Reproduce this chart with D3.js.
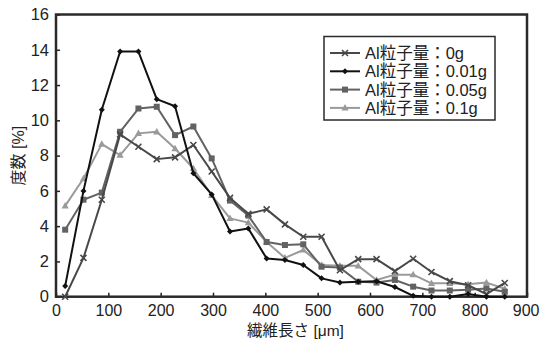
<!DOCTYPE html>
<html>
<head>
<meta charset="utf-8">
<script src="https://cdn.jsdelivr.net/npm/d3@7"></script>
<style>
  body { margin: 0; background: #fff; }
  svg text { font-family: "Liberation Sans", "Noto Sans CJK JP", sans-serif; fill: #222; }
</style>
</head>
<body>
<svg id="chart" width="540" height="340"></svg>
<script>
// bin centres (µm)
const lengths = d3.range(25).map(k => 17.5 + 35 * k);

const s0g   = [0, 2.2, 5.5, 9.2, 8.5, 7.8, 7.9, 8.6, 7.1, 5.6, 4.7, 4.95, 4.1, 3.4, 3.4, 1.5, 2.13, 2.13, 1.45, 2.15, 1.4, 0.88, 0.65, 0.15, 0.78];
const s001g = [0.6, 6.0, 10.6, 13.9, 13.9, 11.2, 10.8, 7.0, 5.8, 3.7, 3.87, 2.17, 2.08, 1.8, 1.04, 0.81, 0.85, 0.88, 0.55, 0.05, 0, 0, 0.15, 0, 0];
const s005g = [3.8, 5.5, 5.9, 9.35, 10.67, 10.77, 9.16, 9.65, 7.84, 5.45, 4.6, 3.1, 2.93, 2.97, 1.7, 1.65, 0.85, 0.8, 0.95, 0.57, 0.35, 0.35, 0.4, 0.47, 0.28];
const s01g  = [5.15, 6.7, 8.65, 8.03, 9.26, 9.35, 8.4, 7.27, 5.75, 4.44, 4.2, 3.1, 2.2, 2.65, 1.8, 1.75, 1.75, 0.95, 1.25, 1.25, 0.76, 0.76, 0.7, 0.8, 0.45];

const seriesNames = ["Al粒子量：0g", "Al粒子量：0.01g", "Al粒子量：0.05g", "Al粒子量：0.1g"];
const xTicks = [0, 100, 200, 300, 400, 500, 600, 700, 800, 900];
const yTicks = [0, 2, 4, 6, 8, 10, 12, 14, 16];

const series = [
  { name: seriesNames[0], values: s0g,   color: "#484848", marker: "cross" },
  { name: seriesNames[1], values: s001g, color: "#111111", marker: "dot" },
  { name: seriesNames[2], values: s005g, color: "#626262", marker: "square" },
  { name: seriesNames[3], values: s01g,  color: "#9a9a9a", marker: "triangle" }
];

const svg = d3.select("#chart");
const plotL = 56, plotR = 527, plotT = 14.5, plotB = 296.7;

const x = d3.scaleLinear().domain([0, 900]).range([plotL, plotR]);
const y = d3.scaleLinear().domain([0, 16]).range([plotB, plotT]);

// axes with inward ticks
svg.append("g")
  .attr("transform", `translate(0,${plotB})`)
  .call(d3.axisBottom(x).tickValues(xTicks).tickSizeInner(-4).tickSizeOuter(0).tickPadding(8))
  .call(g => g.select(".domain").remove())
  .call(g => g.selectAll("line").attr("stroke", "#222").attr("stroke-width", 1.5))
  .call(g => g.selectAll("text").attr("font-size", 16).attr("fill", "#222"))
  .call(g => g.selectAll(".tick:last-of-type text").attr("text-anchor", "end").attr("dx", 12));

svg.append("g")
  .attr("transform", `translate(${plotL},0)`)
  .call(d3.axisLeft(y).tickValues(yTicks).tickSizeInner(-4).tickSizeOuter(0).tickPadding(7))
  .call(g => g.select(".domain").remove())
  .call(g => g.selectAll("line").attr("stroke", "#222").attr("stroke-width", 1.5))
  .call(g => g.selectAll("text").attr("font-size", 16.5).attr("fill", "#222"));

// frame
svg.append("rect")
  .attr("x", plotL).attr("y", plotT)
  .attr("width", plotR - plotL).attr("height", plotB - plotT)
  .attr("fill", "none").attr("stroke", "#2a2a2a").attr("stroke-width", 2.5);

const line = d3.line().x((d, i) => x(lengths[i])).y(d => y(d));

function drawMarker(g, type, color) {
  if (type === "cross") {
    g.append("path").attr("d", "M-3,-3L3,3M-3,3L3,-3")
      .attr("stroke", color).attr("stroke-width", 1.6).attr("fill", "none");
  } else if (type === "dot") {
    g.append("path").attr("d", "M0,-3L3,0L0,3L-3,0Z").attr("fill", color);
  } else if (type === "square") {
    g.append("rect").attr("x", -3).attr("y", -3).attr("width", 6).attr("height", 6).attr("fill", color);
  } else {
    g.append("path").attr("d", "M0,-3.8L3.6,2.6L-3.6,2.6Z").attr("fill", color);
  }
}

// draw lighter series first so black stays on top
[3, 2, 0, 1].forEach(si => {
  const s = series[si];
  svg.append("path")
    .datum(s.values)
    .attr("d", line)
    .attr("fill", "none")
    .attr("stroke", s.color)
    .attr("stroke-width", 2)
    .attr("stroke-linejoin", "round");
  s.values.forEach((v, i) => {
    const g = svg.append("g").attr("transform", `translate(${x(lengths[i])},${y(v)})`);
    drawMarker(g, s.marker, s.color);
  });
});

// legend
const lg = svg.append("g").attr("transform", "translate(324,36.5)");
lg.append("rect").attr("width", 171).attr("height", 83.5)
  .attr("fill", "#fff").attr("stroke", "#2a2a2a").attr("stroke-width", 1.5);
series.forEach((s, i) => {
  const ry = 16.5 + i * 18.3;
  lg.append("line").attr("x1", 6).attr("x2", 36).attr("y1", ry).attr("y2", ry)
    .attr("stroke", s.color).attr("stroke-width", 2);
  drawMarker(lg.append("g").attr("transform", `translate(21,${ry})`), s.marker, s.color);
  lg.append("text").attr("x", 41).attr("y", ry).attr("dy", "0.36em")
    .attr("font-size", 16.5).text(s.name);
});

// axis titles
svg.append("text")
  .attr("x", (plotL + plotR) / 2 + 4).attr("y", 336)
  .attr("text-anchor", "middle").attr("font-size", 15.5)
  .text("繊維長さ [μm]");

svg.append("text")
  .attr("transform", `translate(24,${(plotT + plotB) / 2}) rotate(-90)`)
  .attr("text-anchor", "middle").attr("font-size", 16)
  .text("度数 [%]");
</script>
</body>
</html>
